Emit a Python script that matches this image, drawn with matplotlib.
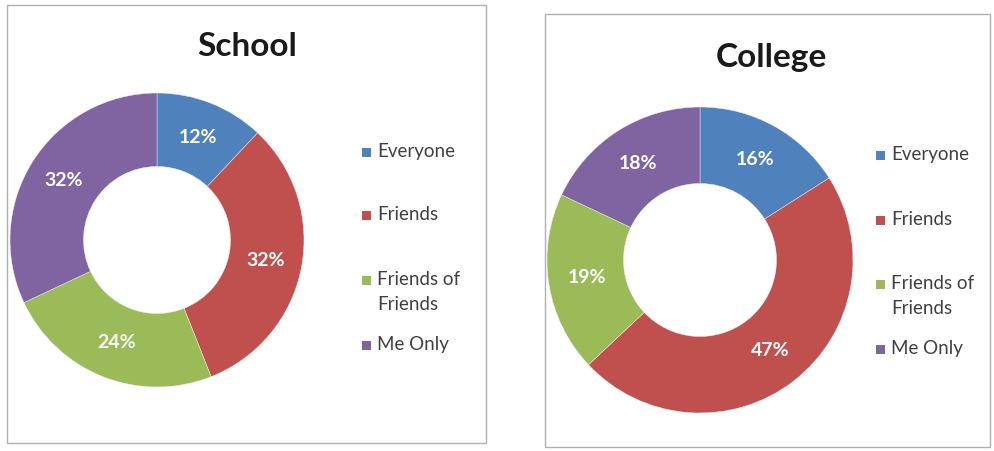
import matplotlib
matplotlib.use("Agg")
import matplotlib.pyplot as plt
from matplotlib.patches import Rectangle

plt.rcParams['font.family'] = ['Lato', 'DejaVu Sans']

categories = ["Everyone", "Friends", "Friends of\nFriends", "Me Only"]
school_values = [12, 32, 24, 32]
college_values = [16, 47, 19, 18]
colors = ["#4F81BD", "#C0504D", "#9BBB59", "#8064A2"]

W, H = 994, 451
fig = plt.figure(figsize=(W / 100, H / 100), dpi=100)
ax = fig.add_axes([0, 0, 1, 1])
ax.set_xlim(0, W)
ax.set_ylim(0, H)
ax.set_aspect('equal')
ax.axis('off')


def py(y):
    # convert a top-down pixel row to the axes' bottom-up coordinate
    return H - y


panels = [
    dict(title="School", values=school_values, box=(7, 5, 486, 443),
         title_xy=(247, 47), center=(157, 240), radius=147,
         legend_x=362, legend_rows=[152, 215, 280, 345]),
    dict(title="College", values=college_values, box=(545, 14, 990, 447),
         title_xy=(771, 57), center=(700, 260), radius=153,
         legend_x=876, legend_rows=[155, 220, 284, 349]),
]

for p in panels:
    x0, y0, x1, y1 = p["box"]
    ax.add_patch(Rectangle((x0, py(y1)), x1 - x0, y1 - y0, fill=False,
                           edgecolor="#b0b0b0", linewidth=1.0))
    ax.text(p["title_xy"][0], py(p["title_xy"][1]), p["title"],
            fontsize=24, fontweight='bold', color="#1a1a1a",
            ha='center', va='center')

    cx, cy = p["center"]
    wedges, _, autotexts = ax.pie(
        p["values"], colors=colors, startangle=90, counterclock=False,
        center=(cx, py(cy)), radius=p["radius"],
        autopct=lambda v: f"{v:.0f}%", pctdistance=0.75,
        wedgeprops=dict(width=p["radius"] * 0.5, edgecolor="#f4f4f4",
                        linewidth=0.3),
        frame=True)
    for t in autotexts:
        t.set_color("white")
        t.set_fontsize(14)
        t.set_fontweight('bold')

    lx = p["legend_x"]
    for label, col, row in zip(categories, colors, p["legend_rows"]):
        ax.add_patch(Rectangle((lx, py(row) - 4.5), 9, 9, facecolor=col,
                               edgecolor='none'))
        ax.text(lx + 15, py(row) + 9, label, fontsize=13.5, color="#404040",
                ha='left', va='top', linespacing=1.55)

ax.set_xlim(0, W)
ax.set_ylim(0, H)
ax.axis('off')

fig.savefig("out.png", dpi=100, facecolor="white")
